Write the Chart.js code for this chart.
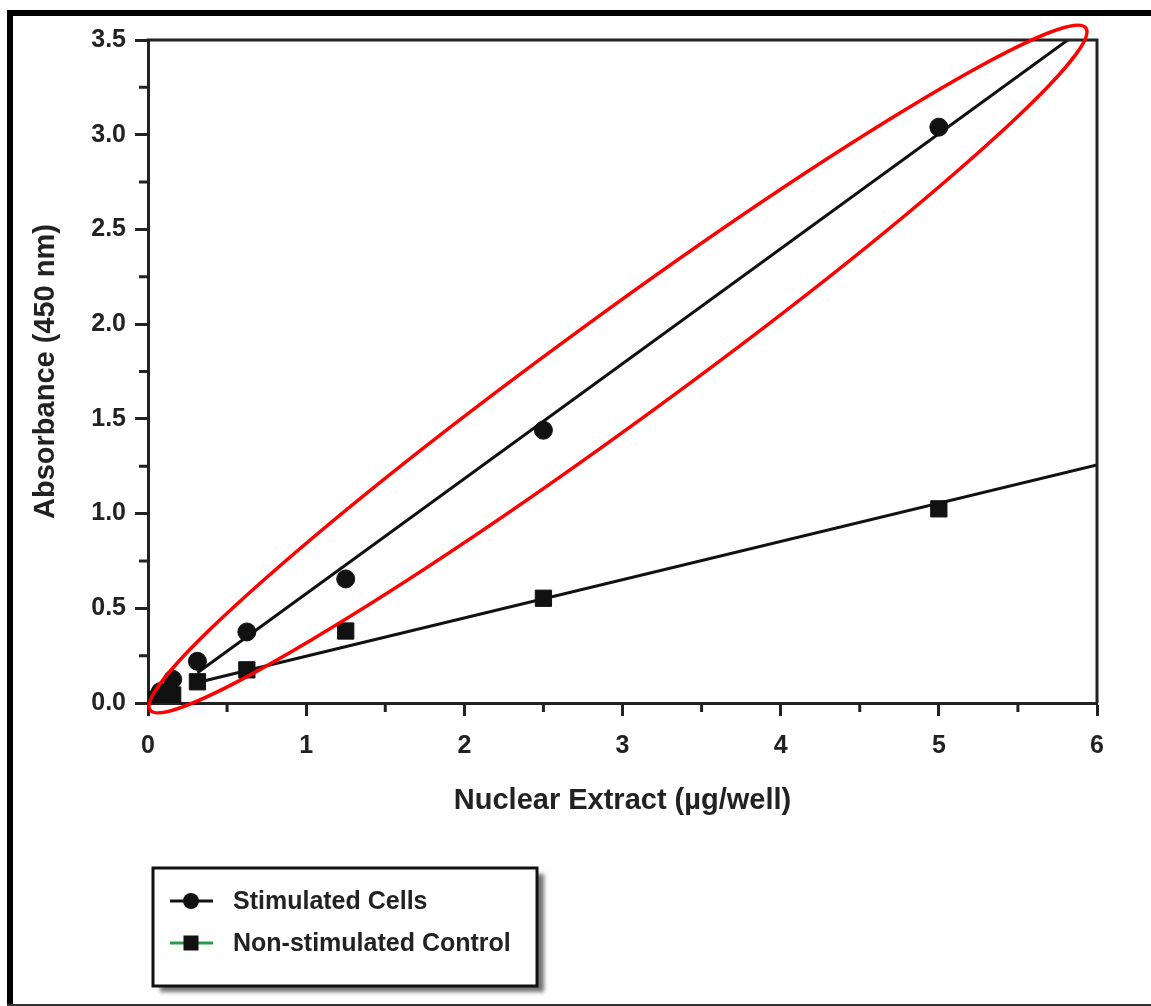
<!DOCTYPE html>
<html><head><meta charset="utf-8">
<script src="https://cdn.jsdelivr.net/npm/chart.js@4/dist/chart.umd.min.js"></script>
<style>html,body{margin:0;padding:0;background:#fff;}canvas{display:block;}</style>
</head><body>
<canvas id="c" width="1151" height="1006"></canvas>
<script>
// ---- data ----
const extract     = [0.039, 0.078, 0.156, 0.3125, 0.625, 1.25, 2.5, 5];
const stimulated  = [0.02, 0.06, 0.125, 0.22, 0.375, 0.655, 1.44, 3.04];
const control     = [0.015, 0.033, 0.042, 0.112, 0.175, 0.38, 0.553, 1.025];
const stimFitX = [0.3125, 5.815];
const stimFitY = [0.16, 3.5];
const ctrlFitX = [0.3125, 6];
const ctrlFitY = [0.108, 1.257];
const seriesNames = ['Stimulated Cells', 'Non-stimulated Control'];
const xTickLabels = ['0', '1', '2', '3', '4', '5', '6'];
const yTickLabels = ['0.0', '0.5', '1.0', '1.5', '2.0', '2.5', '3.0', '3.5'];
const xMinorTicks = [0.5, 1.5, 2.5, 3.5, 4.5, 5.5];
const yMinorTicks = [0.25, 0.75, 1.25, 1.75, 2.25, 2.75, 3.25];
const xTitle = 'Nuclear Extract (\u00b5g/well)';
const yTitle = 'Absorbance (450 nm)';
const ellipseTipA = [0.013, -0.037];
const ellipseTipB = [5.93, 3.563];

const FONT = "'Liberation Sans', Arial, Helvetica, sans-serif";
const INK = '#222';

const pts = (xs, ys) => xs.map((x, i) => ({x: x, y: ys[i]}));

const decorPlugin = {
  id: 'decor',
  beforeDraw(chart) {
    const c = chart.ctx;
    c.save();
    c.fillStyle = '#fff';
    c.fillRect(0, 0, chart.width, chart.height);
    c.fillStyle = '#000';
    c.fillRect(7, 10, chart.width - 7, 6);   // top page border
    c.fillRect(7, 10, 6, chart.height - 10); // left page border
    c.fillStyle = '#333';
    c.fillRect(7, chart.height - 2, chart.width - 7, 2);
    c.restore();
  },
  afterDraw(chart) {
    const c = chart.ctx, xs = chart.scales.x, ys = chart.scales.y, a = chart.chartArea;
    c.save();
    // plot frame top & right
    c.strokeStyle = INK; c.lineWidth = 3; c.lineCap = 'butt';
    c.beginPath();
    c.moveTo(a.left - 1.5, a.top); c.lineTo(a.right + 1.5, a.top);
    c.moveTo(a.right, a.top); c.lineTo(a.right, a.bottom);
    c.stroke();
    // minor ticks
    c.beginPath();
    xMinorTicks.forEach(v => { const px = xs.getPixelForValue(v); c.moveTo(px, a.bottom); c.lineTo(px, a.bottom + 9); });
    yMinorTicks.forEach(v => { const py = ys.getPixelForValue(v); c.moveTo(a.left, py); c.lineTo(a.left - 9, py); });
    c.stroke();
    // red ellipse annotation
    const x1 = xs.getPixelForValue(ellipseTipA[0]), y1 = ys.getPixelForValue(ellipseTipA[1]);
    const x2 = xs.getPixelForValue(ellipseTipB[0]), y2 = ys.getPixelForValue(ellipseTipB[1]);
    const cx = (x1 + x2) / 2, cy = (y1 + y2) / 2;
    const semiMajor = Math.hypot(x2 - x1, y2 - y1) / 2;
    const ang = Math.atan2(y2 - y1, x2 - x1);
    c.strokeStyle = '#ff0000'; c.lineWidth = 3.5;
    c.beginPath(); c.ellipse(cx, cy, semiMajor, 54, ang, 0, Math.PI * 2); c.stroke();
    // legend
    const L = 153, T = 868, W = 384, H = 118;
    c.save();
    c.shadowColor = 'rgba(0,0,0,0.55)'; c.shadowBlur = 4; c.shadowOffsetX = 7; c.shadowOffsetY = 6;
    c.fillStyle = '#fff';
    c.fillRect(L, T, W, H);
    c.restore();
    c.strokeStyle = '#111'; c.lineWidth = 3;
    c.strokeRect(L, T, W, H);
    const rows = [T + 33, T + 75];
    chart.data.datasets.slice(0, 2).forEach((ds, i) => {
      const yy = rows[i];
      c.strokeStyle = ds.legendLineColor; c.lineWidth = 3;
      c.beginPath(); c.moveTo(170, yy); c.lineTo(213, yy); c.stroke();
      c.fillStyle = '#111';
      if (ds.pointStyle === 'circle') { c.beginPath(); c.arc(191, yy, 8, 0, Math.PI * 2); c.fill(); }
      else { c.fillRect(191 - 7.5, yy - 7.5, 15, 15); }
      c.fillStyle = INK; c.font = 'bold 25px ' + FONT; c.textBaseline = 'middle'; c.textAlign = 'left';
      c.fillText(ds.label, 233, yy + 1);
    });
    c.restore();
  }
};

new Chart(document.getElementById('c'), {
  type: 'scatter',
  data: {
    datasets: [
      { label: seriesNames[0], data: pts(extract, stimulated), pointStyle: 'circle', pointRadius: 9,
        pointBorderWidth: 1, backgroundColor: '#111', borderColor: '#111', showLine: false, legendLineColor: '#111' },
      { label: seriesNames[1], data: pts(extract, control), pointStyle: 'rect', pointRadius: 11.5,
        pointBorderWidth: 1, backgroundColor: '#111', borderColor: '#111', showLine: false, legendLineColor: '#2e9a4c' },
      { label: 'fit1', data: pts(stimFitX, stimFitY), showLine: true, pointRadius: 0, borderColor: '#111', borderWidth: 3 },
      { label: 'fit2', data: pts(ctrlFitX, ctrlFitY), showLine: true, pointRadius: 0, borderColor: '#111', borderWidth: 3 }
    ]
  },
  options: {
    responsive: false, animation: false, devicePixelRatio: 1,
    layout: { padding: { left: 14, right: 54, top: 40, bottom: 183 } },
    plugins: { legend: { display: false }, tooltip: { enabled: false } },
    scales: {
      x: {
        type: 'linear', min: 0, max: 6,
        afterFit: s => { s.height = 120; },
        afterBuildTicks: s => { s.ticks = xTickLabels.map(t => ({ value: parseFloat(t) })); },
        ticks: { callback: (v, i) => xTickLabels[i], font: { family: FONT, weight: 'bold', size: 25 }, color: INK, padding: 15, maxRotation: 0 },
        grid: { drawOnChartArea: false, drawTicks: true, tickLength: 13, tickWidth: 3, tickColor: INK },
        border: { display: true, width: 3, color: INK },
        title: { display: true, text: xTitle, font: { family: FONT, weight: 'bold', size: 29 }, color: INK, padding: { top: 0, bottom: 5 } }
      },
      y: {
        type: 'linear', min: 0, max: 3.5,
        afterFit: s => { s.width = 134; },
        afterBuildTicks: s => { s.ticks = yTickLabels.map(t => ({ value: parseFloat(t) })); },
        ticks: { callback: (v, i) => yTickLabels[i], font: { family: FONT, weight: 'bold', size: 25 }, color: INK, padding: 9 },
        grid: { drawOnChartArea: false, drawTicks: true, tickLength: 13, tickWidth: 3, tickColor: INK },
        border: { display: true, width: 3, color: INK },
        title: { display: true, text: yTitle, font: { family: FONT, weight: 'bold', size: 29 }, color: INK, padding: { top: 15, bottom: 0 } }
      }
    }
  },
  plugins: [decorPlugin]
});
</script>
</body></html>
